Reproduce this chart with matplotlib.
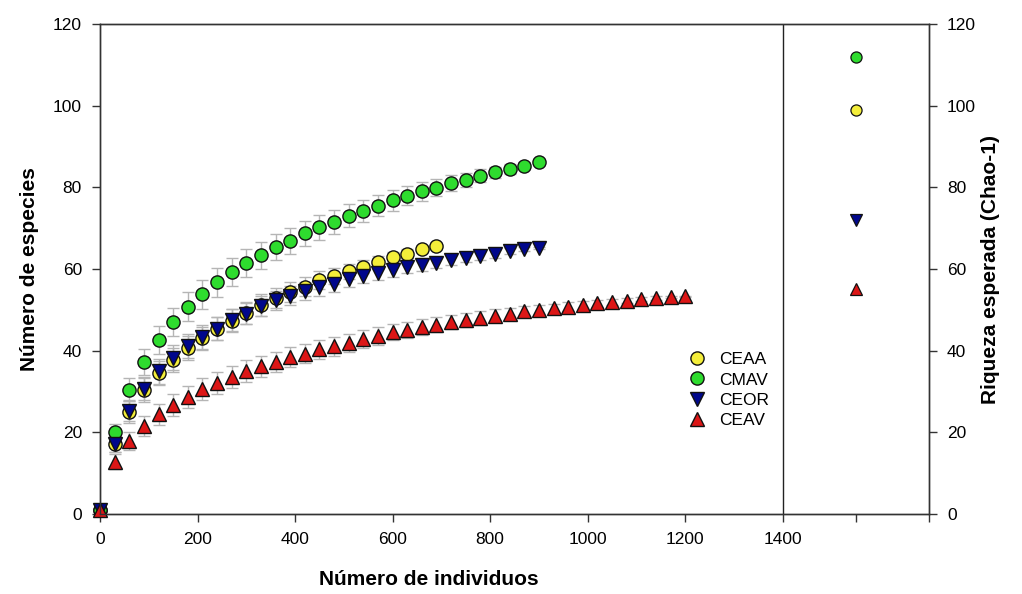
import matplotlib
matplotlib.use("Agg")
import matplotlib.pyplot as plt
from matplotlib.lines import Line2D

plt.rcParams['font.family'] = ['Liberation Sans', 'DejaVu Sans']

# ---- data ----
series_names = ["CEAA", "CMAV", "CEOR", "CEAV"]
step = 30

ceaa_y = [1, 17.1, 25.0, 30.4, 34.5, 37.7, 40.6, 43.0, 45.4, 47.3, 49.3, 51.2,
          52.9, 54.3, 55.7, 57.3, 58.3, 59.4, 60.6, 61.6, 62.9, 63.7, 64.9, 65.7]
ceaa_err = [0, 2.0, 2.6, 2.9, 3.0, 3.0, 3.0, 2.9, 2.9, 2.8, 2.7, 2.6,
            2.5, 2.4, 2.3, 2.2, 2.0, 1.9, 1.7, 1.5, 1.3, 1.1, 0.8, 0.4]

cmav_y = [1, 20.1, 30.4, 37.3, 42.6, 47.0, 50.8, 53.8, 56.7, 59.2, 61.4, 63.4,
          65.3, 66.9, 68.7, 70.2, 71.5, 73.0, 74.2, 75.5, 76.8, 78.0, 79.0, 79.9,
          81.0, 81.8, 82.8, 83.7, 84.5, 85.3, 86.1]
cmav_err = [0, 2.0, 2.8, 3.2, 3.4, 3.5, 3.5, 3.5, 3.5, 3.4, 3.4, 3.3,
            3.2, 3.2, 3.1, 3.0, 2.9, 2.8, 2.7, 2.6, 2.5, 2.4, 2.3, 2.1,
            2.0, 1.8, 1.6, 1.4, 1.2, 0.9, 0.5]

ceor_y = [1, 17.1, 25.3, 30.7, 34.9, 38.3, 41.2, 43.4, 45.4, 47.5, 49.1, 51.0,
          52.3, 53.5, 54.6, 55.6, 56.4, 57.5, 58.3, 59.0, 59.7, 60.5, 61.0, 61.5,
          62.3, 62.8, 63.3, 63.7, 64.4, 64.8, 65.1]
ceor_err = [0, 2.0, 2.6, 2.9, 3.0, 3.0, 3.0, 2.9, 2.8, 2.7, 2.6, 2.5,
            2.4, 2.3, 2.2, 2.1, 2.0, 1.9, 1.8, 1.7, 1.6, 1.5, 1.4, 1.3,
            1.2, 1.1, 1.0, 0.9, 0.7, 0.5, 0.3]

ceav_y = [1, 12.8, 17.9, 21.5, 24.4, 26.6, 28.7, 30.5, 32.1, 33.6, 35.0, 36.2,
          37.2, 38.4, 39.3, 40.3, 41.1, 41.9, 42.9, 43.6, 44.6, 45.1, 45.8, 46.4,
          47.0, 47.6, 48.0, 48.6, 49.0, 49.6, 50.0, 50.4, 50.8, 51.2, 51.6, 52.0,
          52.2, 52.6, 52.9, 53.1, 53.3]
ceav_err = [0, 1.8, 2.2, 2.5, 2.6, 2.7, 2.7, 2.7, 2.7, 2.7, 2.6, 2.6,
            2.5, 2.5, 2.4, 2.4, 2.3, 2.2, 2.2, 2.1, 2.0, 2.0, 1.9, 1.8,
            1.7, 1.7, 1.6, 1.5, 1.4, 1.3, 1.2, 1.1, 1.0, 0.9, 0.8, 0.7,
            0.6, 0.5, 0.4, 0.3, 0.2]

chao_x = 1550
chao_values = [99, 112, 72, 55]   # CEAA, CMAV, CEOR, CEAV

x_ticks = [0, 200, 400, 600, 800, 1000, 1200, 1400, 1550, 1700]
x_tick_labels = ["0", "200", "400", "600", "800", "1000", "1200", "1400", "", ""]
y_ticks = [0, 20, 40, 60, 80, 100, 120]

# ---- styles ----
colors = ["#f4ee3a", "#2edc2e", "#00078c", "#dc1616"]
markers = ["o", "o", "v", "^"]
series_y = [ceaa_y, cmav_y, ceor_y, ceav_y]
series_err = [ceaa_err, cmav_err, ceor_err, ceav_err]

W, H = 1022, 594
fig = plt.figure(figsize=(W / 100, H / 100), dpi=100)
ax = fig.add_axes([100 / W, 1 - 514 / H, 829 / W, 490 / H])
ax.set_xlim(0, 1700)
ax.set_ylim(0, 120)

# error bars first (behind all markers)
for ys, es in zip(series_y, series_err):
    xs = [i * step for i in range(len(ys))]
    ax.errorbar(xs, ys, yerr=es, fmt='none', ecolor='#b5b5b5', elinewidth=1.0,
                capsize=4.5, capthick=1.0, zorder=1)

handles = []
for name, ys, c, m in zip(series_names, series_y, colors, markers):
    xs = [i * step for i in range(len(ys))]
    ax.plot(xs, ys, linestyle='none', marker=m, markersize=9.5,
            markerfacecolor=c, markeredgecolor='#111111', markeredgewidth=1.0,
            zorder=3, clip_on=False)
    handles.append(Line2D([], [], linestyle='none', marker=m, markersize=9.5,
                          markerfacecolor=c, markeredgecolor='#111111',
                          markeredgewidth=1.0))

for v, c, m in zip(chao_values, colors, markers):
    ax.plot([chao_x], [v], linestyle='none', marker=m, markersize=8,
            markerfacecolor=c, markeredgecolor='#111111', markeredgewidth=0.9,
            zorder=3)

ax.axvline(1400, color='#222222', linewidth=1.0, zorder=2)

for sp in ax.spines.values():
    sp.set_color('#333333')
    sp.set_linewidth(1.0)

ax.set_xticks(x_ticks)
ax.set_xticklabels(x_tick_labels)
ax.set_yticks(y_ticks)
ax.tick_params(axis='both', direction='out', length=6, width=1.0,
               color='#333333', labelsize=12.5, pad=7)
ax.tick_params(top=False, right=False)

ax2 = ax.twinx()
ax2.set_ylim(0, 120)
ax2.set_yticks(y_ticks)
ax2.tick_params(axis='y', direction='out', length=6, width=1.0,
                color='#333333', labelsize=12.5, pad=7)
for sp in ax2.spines.values():
    sp.set_color('#333333')
    sp.set_linewidth(1.0)

ax.set_xlabel("Número de individuos", fontsize=15, fontweight='bold')
ax.xaxis.set_label_coords(0.397, -0.115)
ax.set_ylabel("Número de especies", fontsize=15, fontweight='bold')
ax.yaxis.set_label_coords(-0.074, 0.5)
ax2.set_ylabel("Riqueza esperada (Chao-1)", fontsize=15, fontweight='bold')
ax2.yaxis.set_label_coords(1.063, 0.5)

leg = ax.legend(handles, series_names, loc='upper left',
                bbox_to_anchor=(688 / W, 1 - 352 / H),
                bbox_transform=fig.transFigure, frameon=False, fontsize=12.5,
                handlelength=1.0, handletextpad=0.8, labelspacing=0.3,
                borderpad=0, borderaxespad=0)

fig.savefig("out.png", dpi=100)
